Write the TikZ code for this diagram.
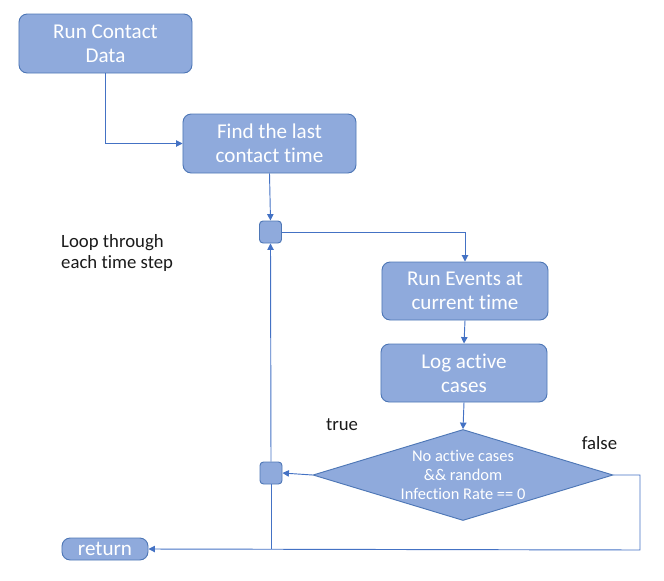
\documentclass[tikz,border=0pt]{standalone}
\usepackage{fontspec}
\setmainfont{Carlito}[Ligatures=NoCommon]
\usetikzlibrary{shapes.geometric, arrows.meta, positioning}
\definecolor{boxfill}{HTML}{8FAADC}
\definecolor{boxline}{HTML}{4E77B6}
\definecolor{flowline}{HTML}{4472C4}
\definecolor{lbltext}{HTML}{1A1A1A}
\begin{document}
\begin{tikzpicture}[x=0.03cm, y=-0.03cm,
	procbox/.style={shape=rectangle, rounded corners=7pt, draw=boxline, fill=boxfill, line width=0.8pt,
		text=white, align=center, font=\fontsize{18}{20.5}\selectfont, inner sep=0pt},
	joinbox/.style={shape=rectangle, rounded corners=3pt, draw=boxline, fill=boxfill, line width=0.8pt,
		minimum width=0.66cm, minimum height=0.66cm, inner sep=0pt},
	decision/.style={shape=diamond, aspect=3.3, draw=boxline, fill=boxfill, line width=0.8pt,
		minimum width=9cm, minimum height=2.73cm,
		text=white, align=center, font=\fontsize{14}{16.2}\selectfont, inner sep=0pt},
	lbl/.style={align=left, text=lbltext, font=\fontsize{16}{18}\selectfont, inner sep=0pt},
	flow/.style={draw=flowline, line width=0.8pt, -{Triangle[length=5.5pt, width=5.5pt]}},
	plain/.style={draw=flowline, line width=0.8pt}]
\useasboundingbox (0,0) rectangle (664,581);
% boxes
\node[procbox, minimum width=5.19cm, minimum height=1.77cm] (run) at (105.5,43.5) {Run Contact\\Data};
\node[procbox, minimum width=5.19cm, minimum height=1.77cm] (find) at (269.5,143.5) {Find the last\\contact time};
\node[procbox, minimum width=4.98cm, minimum height=1.74cm] (events) at (465,291) {Run Events at\\current time};
\node[procbox, minimum width=4.98cm, minimum height=1.74cm] (logc) at (464,373) {Log active\\cases};
\node[decision] (cond) at (463,475) {No active cases\\\&\& random\\Infection Rate == 0};
\node[joinbox] (join1) at (270.5,232) {};
\node[joinbox] (join2) at (271,473) {};
\node[procbox, minimum width=2.58cm, minimum height=0.66cm] (ret) at (105,549) {return};
% labels
\node[lbl, anchor=north west] (loop) at (61,234) {Loop through\\each time step};
\node[lbl] (tru) at (342,425) {true};
\node[lbl] (fal) at (599.5,443) {false};
% connectors
\draw[flow] (run.south) |- (find.west);
\draw[flow] (find.south) -- (join1.north);
\draw[flow] (join1.east) -| (events.north);
\draw[flow] (events.south) -- (logc.north);
\draw[flow] (logc.south) -- (cond.north);
\draw[flow] (cond.west) -- (join2.east);
\draw[flow] (join2.north) -- (join1.south);
\coordinate (corner) at (640,550);
\draw[flow] (cond.east) -| (corner) -- (ret.east);
\draw[plain] (join2.south) -- (join2.south |- ret.east);
\end{tikzpicture}
\end{document}
